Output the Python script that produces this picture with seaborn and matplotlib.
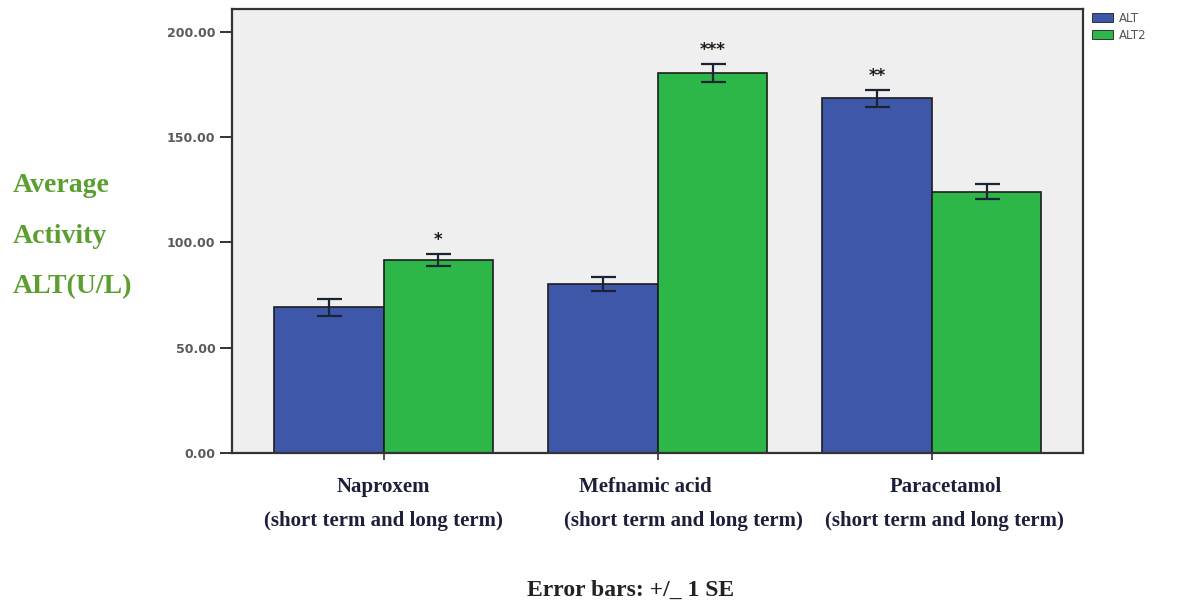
import matplotlib
matplotlib.use("Agg")
import matplotlib.pyplot as plt
from matplotlib.patches import Patch
from matplotlib.ticker import FixedLocator, FormatStrFormatter
import seaborn as sns
import pandas as pd

# Mean ALT activity (U/L) with standard errors
drugs = ["Naproxem", "Mefnamic acid", "Paracetamol"]
series = ["ALT", "ALT2"]
alt_mean = [69.3, 80.2, 168.4]
alt2_mean = [91.7, 180.3, 124.1]
alt_se = [4.0, 3.2, 4.0]
alt2_se = [2.8, 4.3, 3.6]
alt_sig = ["", "", "**"]
alt2_sig = ["*", "***", ""]
term_note = "(short term and long term)"
y_ticks = [0, 50, 100, 150, 200]

blue = "#3f57a9"
green = "#2eb749"

df = pd.DataFrame({
    "drug": drugs * 2,
    "series": [series[0]] * len(drugs) + [series[1]] * len(drugs),
    "value": alt_mean + alt2_mean,
})

sns.set_theme(style="white")
plt.rcParams["font.family"] = ["DejaVu Sans"]

fig = plt.figure(figsize=(11.78, 6.05), dpi=100)
ax = fig.add_axes([0.197, 0.2507, 0.722, 0.734])
ax.set_facecolor("#efefef")

sns.barplot(data=df, x="drug", y="value", hue="series", order=drugs,
            hue_order=series, palette=[blue, green], saturation=1, width=0.8,
            edgecolor="#1e1e1e", linewidth=1.2, errorbar=None,
            legend=False, ax=ax)

# Error bars (+/- 1 SE) and significance marks on each bar
for container, se, sig in zip(ax.containers, [alt_se, alt2_se], [alt_sig, alt2_sig]):
    for bar, err, mark in zip(container, se, sig):
        cx = bar.get_x() + bar.get_width() / 2
        top = bar.get_height()
        ax.errorbar(cx, top, yerr=err, color="#1b2433", elinewidth=1.6,
                    capsize=9, capthick=1.6, zorder=5)
        if mark:
            ax.annotate(mark, xy=(cx, top + err), xytext=(0, 10),
                        textcoords="offset points", ha="center", va="center",
                        fontsize=12, fontweight="bold", color="#1e1e1e")

ax.set_xlim(-0.553, 2.55)
ax.set_ylim(0, 210.6)
ax.yaxis.set_major_locator(FixedLocator(y_ticks))
ax.yaxis.set_major_formatter(FormatStrFormatter("%.2f"))
ax.tick_params(axis="y", direction="out", length=9, width=1.4, color="#333333",
               pad=3, labelsize=9, labelcolor="#5a5a5a", left=True)
for lab in ax.get_yticklabels():
    lab.set_fontweight("bold")
ax.tick_params(axis="x", direction="out", length=5, width=1.2, color="#333333",
               bottom=True, labelbottom=False)
ax.set_xlabel("")
ax.set_ylabel("")
for sp in ax.spines.values():
    sp.set_visible(True)
    sp.set_color("#333333")
    sp.set_linewidth(1.6)

# Two-line category captions under the axis
name_shift = [0, -12, 14]
note_shift = [0, 26, 13]
serif = ["Liberation Serif", "DejaVu Serif"]
for i, name in enumerate(drugs):
    ax.annotate(name, xy=(i, 0), xycoords=("data", "axes fraction"),
                xytext=(name_shift[i], -34), textcoords="offset pixels",
                ha="center", va="center", fontsize=15, fontweight="bold",
                family=serif, color="#1c1f3a")
    ax.annotate(term_note, xy=(i, 0), xycoords=("data", "axes fraction"),
                xytext=(note_shift[i], -68), textcoords="offset pixels",
                ha="center", va="center", fontsize=15, fontweight="bold",
                family=serif, color="#1c1f3a")

# Y-axis title as three stacked words
for word, yy in zip(["Average", "Activity", "ALT(U/L)"], [185, 237, 287]):
    fig.text(13 / 1178, 1 - yy / 605, word, ha="left", va="center",
             fontsize=20, fontweight="bold", family=serif, color="#5b9f30")

fig.text(631 / 1178, 1 - 590 / 605, "Error bars: +/_ 1 SE", ha="center",
         va="center", fontsize=17, fontweight="bold", family=serif,
         color="#222222")

handles = [Patch(facecolor=blue, edgecolor="#1e1e1e", linewidth=0.6),
           Patch(facecolor=green, edgecolor="#1e1e1e", linewidth=0.6)]
fig.legend(handles, series, loc="upper left",
           bbox_to_anchor=(1086 / 1178, 1 - 6 / 605), frameon=False,
           fontsize=8.5, handlelength=1.8, handleheight=0.8,
           labelspacing=0.35, handletextpad=0.5, borderpad=0,
           labelcolor="#555555")

fig.savefig("out.png", dpi=100, facecolor="white")
